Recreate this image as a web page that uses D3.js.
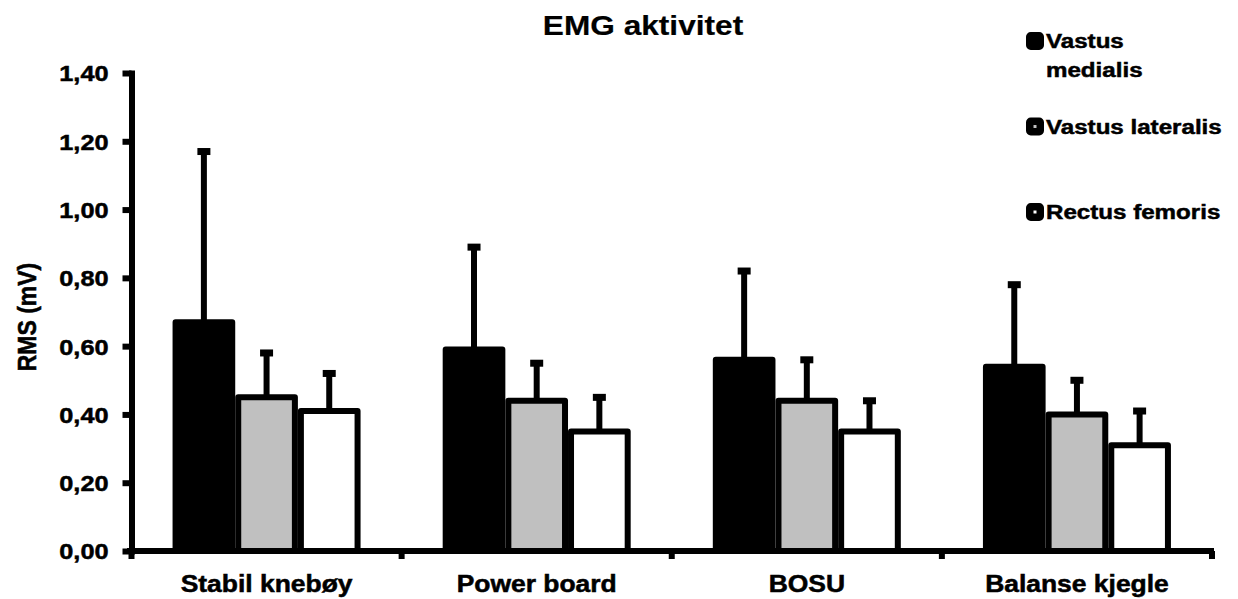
<!DOCTYPE html>
<html>
<head>
<meta charset="utf-8">
<script src="https://cdn.jsdelivr.net/npm/d3@7"></script>
<style>
  body { margin: 0; background: #fff; }
  text { font-family: "Liberation Sans", Arial, sans-serif; font-weight: bold; fill: #000; stroke: #000; stroke-width: 0.5px; }
</style>
</head>
<body>
<svg width="1238" height="599"></svg>
<script>
const categories = ["Stabil knebøy", "Power board", "BOSU", "Balanse kjegle"];
const seriesNames = ["Vastus medialis", "Vastus lateralis", "Rectus femoris"];
const legendLines = [["Vastus", "medialis"], ["Vastus lateralis"], ["Rectus femoris"]];

// mean RMS (mV) and SD per exercise
const vastusMedialis = [0.67, 0.59, 0.56, 0.54];
const vastusMedialisSD = [0.50, 0.30, 0.26, 0.24];
const vastusLateralis = [0.45, 0.44, 0.44, 0.40];
const vastusLateralisSD = [0.13, 0.11, 0.12, 0.10];
const rectusFemoris = [0.41, 0.35, 0.35, 0.31];
const rectusFemorisSD = [0.11, 0.10, 0.09, 0.10];

const yTicks = [0, 0.2, 0.4, 0.6, 0.8, 1.0, 1.2, 1.4];

const means = [vastusMedialis, vastusLateralis, rectusFemoris];
const sds = [vastusMedialisSD, vastusLateralisSD, rectusFemorisSD];
const fills = ["#000000", "#c0c0c0", "#ffffff"];

const stretch = 1.15; // text in the original is a bit wider than Arial

const svg = d3.select("svg");

const y = d3.scaleLinear().domain([0, 1.4]).range([551, 73]);

const x0 = d3.scaleBand()
  .domain(categories)
  .range([131.5, 1212])
  .paddingInner(0.304)
  .paddingOuter(0.152);

const x1 = d3.scaleBand()
  .domain(seriesNames)
  .range([0, x0.bandwidth()]);

const comma = d3.formatLocale({ decimal: ",", thousands: ".", grouping: [3], currency: ["", ""] }).format(".2f");

// bars
const data = [];
categories.forEach((c, ci) => {
  seriesNames.forEach((s, si) => {
    data.push({ cat: c, series: s, si: si, value: means[si][ci], sd: sds[si][ci] });
  });
});

const sw = 6;
const bars = svg.append("g").attr("class", "bars");
bars.selectAll("rect")
  .data(data)
  .enter().append("rect")
  .attr("x", d => x0(d.cat) + x1(d.series) + sw / 2)
  .attr("width", x1.bandwidth() - sw)
  .attr("y", d => y(d.value))
  .attr("height", d => y(0) - y(d.value))
  .attr("fill", d => fills[d.si])
  .attr("stroke", "#000")
  .attr("stroke-width", sw)
  .attr("stroke-linejoin", "round");

// error bars (upper only)
const err = svg.append("g").attr("class", "errors");
err.selectAll("line")
  .data(data)
  .enter().append("line")
  .attr("x1", d => x0(d.cat) + x1(d.series) + x1.bandwidth() / 2)
  .attr("x2", d => x0(d.cat) + x1(d.series) + x1.bandwidth() / 2)
  .attr("y1", d => y(d.value))
  .attr("y2", d => y(d.value + d.sd))
  .attr("stroke", "#000")
  .attr("stroke-width", 6);

err.selectAll("rect")
  .data(data)
  .enter().append("rect")
  .attr("x", d => x0(d.cat) + x1(d.series) + x1.bandwidth() / 2 - 6.5)
  .attr("y", d => y(d.value + d.sd) - 3.5)
  .attr("width", 13)
  .attr("height", 7)
  .attr("fill", "#000");

// y axis
svg.append("g")
  .attr("transform", "translate(131.5,0)")
  .call(d3.axisLeft(y).tickValues(yTicks).tickFormat(comma).tickSize(9).tickSizeOuter(0))
  .call(g => g.select(".domain").attr("stroke-width", 6).attr("stroke-linecap", "square"))
  .call(g => g.selectAll(".tick line").attr("stroke-width", 6))
  .call(g => g.selectAll(".tick text")
    .attr("x", null)
    .attr("dy", "0.36em")
    .attr("font-size", 22)
    .attr("font-family", null)
    .attr("transform", `translate(-23,0) scale(${stretch},1)`));

// x axis
svg.append("line")
  .attr("x1", 127)
  .attr("x2", 1214)
  .attr("y1", y(0))
  .attr("y2", y(0))
  .attr("stroke", "#000")
  .attr("stroke-width", 6);

svg.append("g")
  .selectAll("line")
  .data(d3.range(categories.length + 1))
  .enter().append("line")
  .attr("x1", i => 131.5 + i * x0.step())
  .attr("x2", i => 131.5 + i * x0.step())
  .attr("y1", y(0))
  .attr("y2", y(0) + 8)
  .attr("stroke", "#000")
  .attr("stroke-width", 6);

svg.append("g")
  .selectAll("text")
  .data(categories)
  .enter().append("text")
  .attr("transform", d => `translate(${x0(d) + x0.bandwidth() / 2},591.5) scale(${stretch},1)`)
  .attr("text-anchor", "middle")
  .attr("font-size", 23)
  .text(d => d);

// y axis title
svg.append("text")
  .attr("transform", `translate(36,317) scale(${stretch},1) rotate(-90)`)
  .attr("text-anchor", "middle")
  .attr("font-size", 23)
  .text("RMS (mV)");

// chart title
svg.append("text")
  .attr("transform", `translate(643,35) scale(1.13,1)`)
  .attr("text-anchor", "middle")
  .attr("font-size", 28)
  .style("stroke-width", "0.2px")
  .text("EMG aktivitet");

// legend
const legend = svg.append("g").attr("class", "legend");
const item = legend.selectAll("g")
  .data(seriesNames)
  .enter().append("g")
  .attr("transform", (d, i) => `translate(1026,${48 + i * 85.5})`);

item.append("rect")
  .attr("x", 3.75)
  .attr("y", -12.25)
  .attr("width", 10.5)
  .attr("height", 10.5)
  .attr("rx", 1)
  .attr("fill", (d, i) => fills[i])
  .attr("stroke", "#000")
  .attr("stroke-width", 7.5)
  .attr("stroke-linejoin", "round");

item.each(function (d, i) {
  d3.select(this).selectAll("text")
    .data(legendLines[i])
    .enter().append("text")
    .attr("transform", (t, j) => `translate(20,${j * 28.5}) scale(${stretch},1)`)
    .attr("font-size", 21)
    .text(t => t);
});
</script>
</body>
</html>
